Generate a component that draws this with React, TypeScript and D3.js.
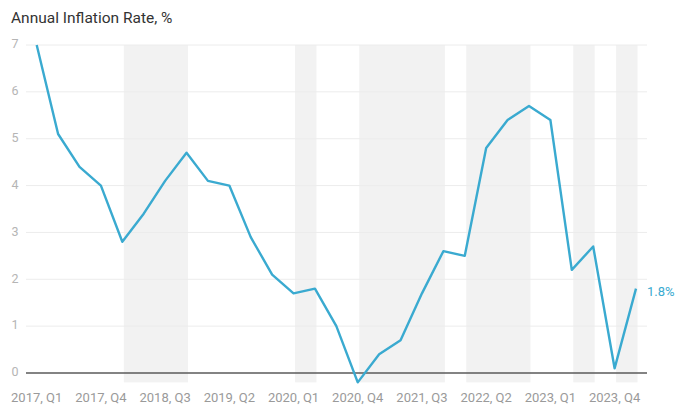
import React from "react";
import * as d3 from "d3";

const quarters: string[] = [
  "2017, Q1", "2017, Q2", "2017, Q3", "2017, Q4",
  "2018, Q1", "2018, Q2", "2018, Q3", "2018, Q4",
  "2019, Q1", "2019, Q2", "2019, Q3", "2019, Q4",
  "2020, Q1", "2020, Q2", "2020, Q3", "2020, Q4",
  "2021, Q1", "2021, Q2", "2021, Q3", "2021, Q4",
  "2022, Q1", "2022, Q2", "2022, Q3", "2022, Q4",
  "2023, Q1", "2023, Q2", "2023, Q3", "2023, Q4",
  "2024, Q1",
];

const inflation: number[] = [
  7.0, 5.1, 4.4, 4.0,
  2.8, 3.4, 4.1, 4.7,
  4.1, 4.0, 2.9, 2.1,
  1.7, 1.8, 1.0, -0.2,
  0.4, 0.7, 1.7, 2.6,
  2.5, 4.8, 5.4, 5.7,
  5.4, 2.2, 2.7, 0.1,
  1.8,
];

const xTickLabels: string[] = [
  "2017, Q1", "2017, Q4", "2018, Q3", "2019, Q2", "2020, Q1",
  "2020, Q4", "2021, Q3", "2022, Q2", "2023, Q1", "2023, Q4",
];

const yTicks: number[] = [0, 1, 2, 3, 4, 5, 6, 7];

// shaded periods: [start quarter, end quarter]
const bandStarts: string[] = ["2018, Q1", "2020, Q1", "2020, Q4", "2022, Q1", "2023, Q2", "2023, Q4"];
const bandEnds: string[] = ["2018, Q4", "2020, Q2", "2021, Q4", "2022, Q4", "2023, Q3", "2024, Q1"];

const W = 678;
const H = 405;

export default function App() {
  const x = d3
    .scalePoint<string>()
    .domain(quarters)
    .range([36.7, 636]);
  const y = d3.scaleLinear().domain([0, 7]).range([373, 45]);

  const gridLeft = 26;
  const gridRight = 647;

  const line = d3
    .line<number>()
    .x((_, i) => x(quarters[i]) as number)
    .y((d) => y(d));

  const lastIdx = inflation.length - 1;
  const lastX = x(quarters[lastIdx]) as number;
  const lastY = y(inflation[lastIdx]);

  const font = "Roboto, 'Noto Sans', sans-serif";

  return (
    <svg
      width={W}
      height={H}
      style={{ position: "absolute", left: 0, top: 0, background: "#fff" }}
      fontFamily={font}
    >
      <text x={11} y={23} fontSize={15.5} fill="#333">
        Annual Inflation Rate, %
      </text>

      {bandStarts.map((s, i) => {
        const x0 = (x(s) as number) + 1.5;
        const x1 = (x(bandEnds[i]) as number) + 1.5;
        return (
          <rect
            key={s}
            x={x0}
            y={y(7)}
            width={x1 - x0}
            height={y(-0.2) - y(7)}
            fill="#f2f2f2"
          />
        );
      })}

      {yTicks
        .filter((t) => t !== 0)
        .map((t) => (
          <line
            key={t}
            x1={gridLeft}
            x2={gridRight}
            y1={y(t)}
            y2={y(t)}
            stroke="#ececec"
            strokeWidth={1}
          />
        ))}

      {yTicks.map((t) => (
        <text
          key={"yl" + t}
          x={11.5}
          y={y(t)}
          dominantBaseline="middle"
          fontSize={12.5}
          fill="#b5b5b5"
        >
          {t}
        </text>
      ))}

      <line
        x1={gridLeft}
        x2={gridRight}
        y1={y(0)}
        y2={y(0)}
        stroke="#5a5a5a"
        strokeWidth={1.5}
      />

      <path
        d={line(inflation) || ""}
        fill="none"
        stroke="#3aaad0"
        strokeWidth={2.4}
        strokeLinejoin="round"
      />

      <text
        x={lastX + 11}
        y={lastY + 4}
        dominantBaseline="middle"
        fontSize={13}
        fill="#3aaad0"
      >
        {inflation[lastIdx].toFixed(1)}%
      </text>

      {xTickLabels.map((q) => (
        <text
          key={q}
          x={x(q) as number}
          y={402}
          textAnchor="middle"
          fontSize={13}
          fill="#9a9a9a"
        >
          {q}
        </text>
      ))}
    </svg>
  );
}
